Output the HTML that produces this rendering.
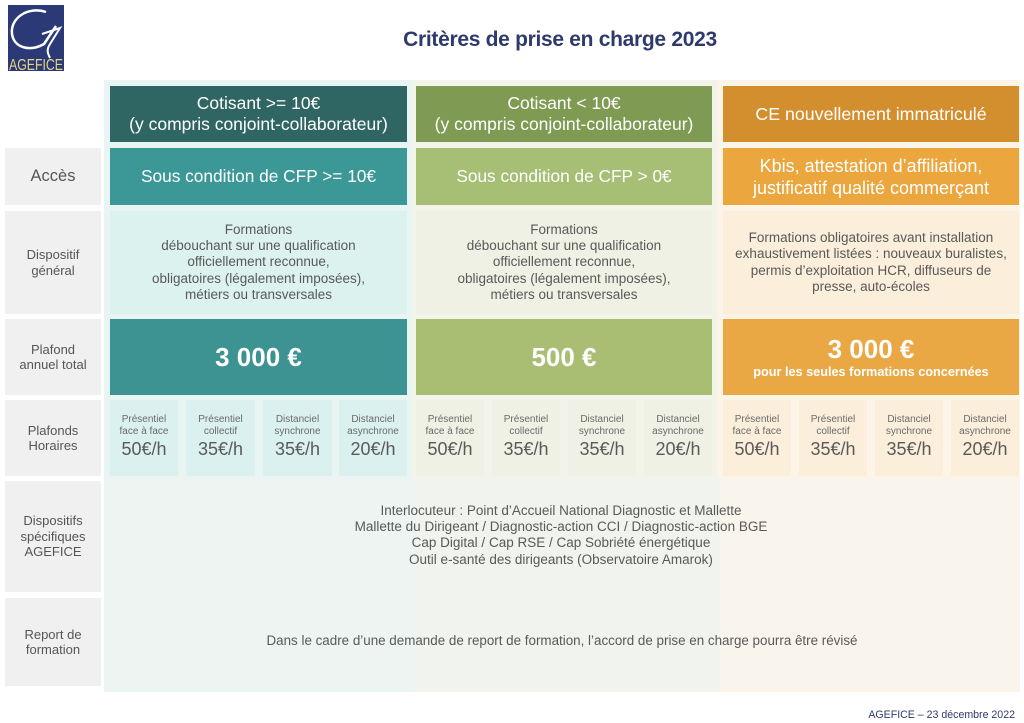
<!DOCTYPE html>
<html><head><meta charset="utf-8">
<style>
*{margin:0;padding:0;box-sizing:border-box}
html,body{width:1024px;height:723px;background:#fff;overflow:hidden}
body{position:relative;font-family:"Liberation Sans",sans-serif}
.a{position:absolute}
.c{position:absolute;display:flex;align-items:center;justify-content:center;text-align:center;flex-direction:column}
.lab{background:#f0f0f0;color:#555;font-size:13px;line-height:15.5px}
.w{color:#fff}
.g{color:#595959}
.sb{position:absolute;display:flex;flex-direction:column;align-items:center;text-align:center;padding-top:14px}
.sb .s{font-size:10px;line-height:12px;color:#6a6a6a}
.sb .b{font-size:18px;line-height:22px;color:#5a5a5a;margin-top:0px}
</style></head><body>

<!-- logo -->
<svg class="a" style="left:6px;top:4px" width="60" height="70" viewBox="0 0 60 70">
<rect x="2" y="1" width="56" height="66" fill="#2c3977"/>
<path d="M40 8 C22 2 4 14 6 30 C8 44 24 48 38 40 L50 22" fill="none" stroke="#fff" stroke-width="2.5"/>
<path d="M36 30 L54 24 L44 40 C40 46 42 50 44 54" fill="none" stroke="#fff" stroke-width="2"/>
<text x="30" y="66" text-anchor="middle" font-family="Liberation Sans Narrow, Liberation Sans, sans-serif" font-size="16" fill="#e6d67e" textLength="54" lengthAdjust="spacingAndGlyphs">AGEFICE</text>
</svg>

<div class="a" style="left:0;top:28px;width:1120px;text-align:center;font-size:21px;font-weight:bold;color:#2e3a6c;letter-spacing:-0.3px">Critères de prise en charge 2023</div>

<!-- panel backgrounds -->
<div class="a" style="left:104px;top:80px;width:308px;height:612px;background:#e9f5f3"></div>
<div class="a" style="left:412px;top:80px;width:306px;height:612px;background:#f2f4ea"></div>
<div class="a" style="left:718px;top:80px;width:302px;height:612px;background:#fcf4e6"></div>
<div class="a" style="left:104px;top:478px;width:311px;height:212px;background:#edf4f2"></div>
<div class="a" style="left:415px;top:478px;width:305px;height:212px;background:#f1f3ee"></div>
<div class="a" style="left:720px;top:478px;width:300px;height:212px;background:#faf5ec"></div>

<!-- header row -->
<div class="c w" style="left:110px;top:86px;width:297px;height:56px;background:#2f6563;font-size:17.5px;line-height:21.5px">Cotisant &gt;= 10€<br>(y compris conjoint-collaborateur)</div>
<div class="c w" style="left:416px;top:86px;width:296px;height:56px;background:#7f9b53;font-size:17.5px;line-height:21.5px">Cotisant &lt; 10€<br>(y compris conjoint-collaborateur)</div>
<div class="c w" style="left:723px;top:86px;width:296px;height:56px;background:#d38e2e;font-size:17.8px">CE nouvellement immatriculé</div>

<!-- Accès -->
<div class="c lab" style="left:5px;top:148px;width:96px;height:57px;font-size:16.5px">Accès</div>
<div class="c w" style="left:110px;top:148px;width:297px;height:57px;background:#3b9897;font-size:17.3px">Sous condition de CFP &gt;= 10€</div>
<div class="c w" style="left:416px;top:148px;width:296px;height:57px;background:#a7be75;font-size:17.3px">Sous condition de CFP &gt; 0€</div>
<div class="c w" style="left:723px;top:148px;width:296px;height:57px;background:#eba63e;font-size:18px;line-height:22px">Kbis, attestation d’affiliation,<br>justificatif qualité commerçant</div>

<!-- Dispositif général -->
<div class="c lab" style="left:5px;top:211px;width:96px;height:103px">Dispositif<br>général</div>
<div class="c g" style="left:110px;top:211px;width:297px;height:103px;background:#dcf2ef;font-size:13.5px;line-height:16.3px">Formations<br>débouchant sur une qualification<br>officiellement reconnue,<br>obligatoires (légalement imposées),<br>métiers ou transversales</div>
<div class="c g" style="left:416px;top:211px;width:296px;height:103px;background:#eff1e4;font-size:13.5px;line-height:16.3px">Formations<br>débouchant sur une qualification<br>officiellement reconnue,<br>obligatoires (légalement imposées),<br>métiers ou transversales</div>
<div class="c g" style="left:723px;top:211px;width:296px;height:103px;background:#fbefdb;font-size:13.5px;line-height:16.3px;white-space:nowrap">Formations obligatoires avant installation<br>exhaustivement listées : nouveaux buralistes,<br>permis d’exploitation HCR, diffuseurs de<br>presse, auto-écoles</div>

<!-- Plafond -->
<div class="c lab" style="left:5px;top:319px;width:96px;height:76px">Plafond<br>annuel total</div>
<div class="c w" style="left:110px;top:319px;width:297px;height:76px;background:#3d9392;font-size:26px;font-weight:bold">3 000 €</div>
<div class="c w" style="left:416px;top:319px;width:296px;height:76px;background:#a9be73;font-size:26px;font-weight:bold">500 €</div>
<div class="c w" style="left:723px;top:319px;width:296px;height:76px;background:#e9a843;font-weight:bold"><div style="font-size:26px;line-height:30px">3 000 €</div><div style="font-size:12.7px;line-height:17px">pour les seules formations concernées</div></div>

<!-- Plafonds Horaires -->
<div class="c lab" style="left:5px;top:400px;width:96px;height:76px">Plafonds<br>Horaires</div>

<div class="sb" style="left:110px;top:400px;width:68px;height:76px;background:#daf1ef"><div class="s">Présentiel<br>face à face</div><div class="b">50€/h</div></div>
<div class="sb" style="left:186px;top:400px;width:69px;height:76px;background:#daf1ef"><div class="s">Présentiel<br>collectif</div><div class="b">35€/h</div></div>
<div class="sb" style="left:263px;top:400px;width:69px;height:76px;background:#daf1ef"><div class="s">Distanciel<br>synchrone</div><div class="b">35€/h</div></div>
<div class="sb" style="left:339px;top:400px;width:68px;height:76px;background:#daf1ef"><div class="s">Distanciel<br>asynchrone</div><div class="b">20€/h</div></div>

<div class="sb" style="left:416px;top:400px;width:68px;height:76px;background:#eff1e4"><div class="s">Présentiel<br>face à face</div><div class="b">50€/h</div></div>
<div class="sb" style="left:492px;top:400px;width:68px;height:76px;background:#eff1e4"><div class="s">Présentiel<br>collectif</div><div class="b">35€/h</div></div>
<div class="sb" style="left:568px;top:400px;width:68px;height:76px;background:#eff1e4"><div class="s">Distanciel<br>synchrone</div><div class="b">35€/h</div></div>
<div class="sb" style="left:644px;top:400px;width:68px;height:76px;background:#eff1e4"><div class="s">Distanciel<br>asynchrone</div><div class="b">20€/h</div></div>

<div class="sb" style="left:723px;top:400px;width:68px;height:76px;background:#fbefdb"><div class="s">Présentiel<br>face à face</div><div class="b">50€/h</div></div>
<div class="sb" style="left:799px;top:400px;width:68px;height:76px;background:#fbefdb"><div class="s">Présentiel<br>collectif</div><div class="b">35€/h</div></div>
<div class="sb" style="left:875px;top:400px;width:68px;height:76px;background:#fbefdb"><div class="s">Distanciel<br>synchrone</div><div class="b">35€/h</div></div>
<div class="sb" style="left:951px;top:400px;width:68px;height:76px;background:#fbefdb"><div class="s">Distanciel<br>asynchrone</div><div class="b">20€/h</div></div>

<!-- Dispositifs spécifiques -->
<div class="c lab" style="left:5px;top:481px;width:96px;height:111px">Dispositifs<br>spécifiques<br>AGEFICE</div>
<div class="a g" style="left:104px;top:503px;width:916px;text-align:center;font-size:13.5px;line-height:16.2px;padding-right:2px">Interlocuteur : Point d’Accueil National Diagnostic et Mallette<br>Mallette du Dirigeant / Diagnostic-action CCI / Diagnostic-action BGE<br>Cap Digital / Cap RSE / Cap Sobriété énergétique<br>Outil e-santé des dirigeants (Observatoire Amarok)</div>

<!-- Report -->
<div class="c lab" style="left:5px;top:598px;width:96px;height:88px">Report de<br>formation</div>
<div class="a g" style="left:104px;top:633px;width:916px;text-align:center;font-size:13.4px;line-height:16px">Dans le cadre d’une demande de report de formation, l’accord de prise en charge pourra être révisé</div>

<!-- footer -->
<div class="a" style="right:9px;top:709px;font-size:10.6px;color:#2e3a6c;white-space:nowrap">AGEFICE – 23 décembre 2022</div>

</body></html>
